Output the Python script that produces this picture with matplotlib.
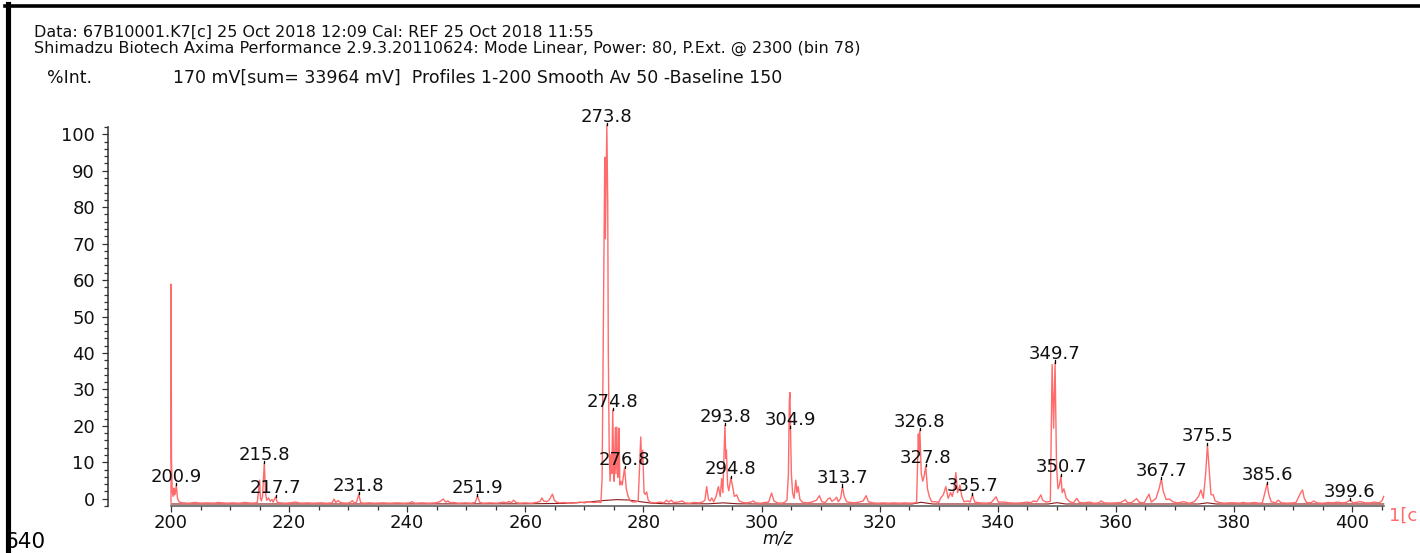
import numpy as np
import matplotlib
matplotlib.use("Agg")
import matplotlib.pyplot as plt
from matplotlib.lines import Line2D
from matplotlib.ticker import MultipleLocator

plt.rcParams['font.family'] = ['DejaVu Sans']

# ---- spectrum profile (m/z, %Int) ----
mz = [200.0, 200.02, 200.08, 200.2, 200.35, 200.5, 200.6, 200.75, 200.9, 201.1, 201.4, 202.0,
      203.0, 204.0, 205.2, 206.0, 207.3, 208.0, 209.5, 210.4, 211.6, 212.5, 213.6, 214.4,
      214.6, 214.8, 215.0, 215.15, 215.3, 215.5, 215.8, 216.0, 216.2, 216.5, 216.8, 217.1,
      217.3, 217.7, 218.0, 218.5, 219.3, 220.2, 221.0, 222.0, 223.2, 224.0, 225.3, 226.4,
      227.3, 227.6, 227.9, 228.3, 228.6, 229.0, 229.8, 230.4, 230.7, 231.0, 231.4, 231.8,
      232.1, 232.6, 233.5, 234.6, 235.8, 237.0, 238.3, 239.5, 240.4, 240.8, 241.3, 242.5,
      243.7, 244.8, 245.5, 246.1, 246.5, 246.9, 247.3, 247.8, 248.7, 249.8, 250.8, 251.5,
      251.9, 252.3, 252.9, 254.0, 255.2, 256.3, 256.8, 257.2, 257.6, 258.0, 258.4, 259.0,
      260.0, 261.0, 261.9, 262.5, 262.8, 263.1, 263.6, 264.0, 264.6, 264.9, 265.3, 265.8,
      266.6, 267.5, 268.4, 269.3, 270.0, 270.8, 271.6, 272.3, 272.8, 273.0, 273.45, 273.55,
      273.8, 273.95, 274.05, 274.2, 274.35, 274.5, 274.65, 274.8, 274.95, 275.05, 275.25, 275.35,
      275.5, 275.65, 275.75, 275.87, 276.0, 276.2, 276.4, 276.8, 277.1, 277.4, 277.8, 278.3,
      278.8, 279.1, 279.3, 279.54, 279.7, 279.88, 280.1, 280.3, 280.55, 280.8, 281.2, 282.0,
      282.8, 283.5, 283.9, 284.3, 284.7, 285.1, 285.8, 286.6, 287.0, 287.8, 288.6, 289.4,
      290.0, 290.4, 290.71, 291.0, 291.3, 291.56, 291.9, 292.3, 292.69, 293.0, 293.25, 293.45,
      293.8, 293.95, 294.05, 294.25, 294.45, 294.8, 295.1, 295.4, 295.8, 296.2, 296.8, 297.5,
      298.2, 298.6, 299.0, 299.8, 300.5, 301.2, 301.7, 302.1, 302.7, 303.3, 303.9, 304.3,
      304.55, 304.7, 304.8, 304.9, 305.05, 305.25, 305.5, 305.8, 306.0, 306.2, 306.5, 307.0,
      307.8, 308.5, 309.3, 309.8, 310.2, 310.8, 311.3, 311.6, 311.9, 312.4, 312.7, 313.0,
      313.4, 313.7, 314.0, 314.4, 315.0, 315.8, 316.5, 317.2, 317.7, 318.1, 318.8, 319.7,
      320.6, 321.5, 322.4, 323.3, 324.2, 325.2, 326.0, 326.25, 326.55, 326.65, 326.8, 327.05,
      327.3, 327.55, 327.8, 328.1, 328.4, 328.8, 329.5, 330.0, 330.3, 330.8, 331.2, 331.6,
      332.0, 332.3, 332.6, 332.9, 333.2, 333.6, 333.9, 334.3, 335.0, 335.3, 335.7, 336.1,
      337.0, 338.0, 338.9, 339.7, 340.1, 341.0, 342.0, 343.0, 344.0, 345.0, 345.6, 346.0,
      346.6, 347.3, 347.6, 348.2, 348.9, 349.2, 349.45, 349.7, 349.95, 350.2, 350.45, 350.7,
      350.9, 351.2, 351.6, 352.2, 352.8, 353.4, 353.8, 354.6, 355.5, 356.3, 357.1, 357.5,
      358.0, 359.0, 360.0, 360.8, 361.6, 362.0, 362.7, 363.5, 364.0, 364.8, 365.6, 366.0,
      366.8, 367.3, 367.7, 368.0, 368.5, 369.1, 369.6, 370.5, 371.5, 372.4, 373.3, 374.0,
      374.4, 374.8, 375.2, 375.5, 375.8, 376.1, 376.5, 376.8, 377.5, 378.3, 379.2, 380.0,
      381.0, 381.5, 382.3, 383.0, 383.5, 384.2, 384.8, 385.3, 385.6, 385.9, 386.3, 387.0,
      387.5, 388.0, 389.0, 390.0, 390.5, 391.3, 391.6, 391.9, 392.3, 393.0, 393.5, 394.0,
      395.0, 396.0, 396.7, 397.5, 398.3, 399.0, 399.6, 400.2, 400.9, 401.5, 402.2, 403.0,
      403.8, 404.4, 404.8, 405.1, 405.35]
intensity = [0.5, 58.0, 12.0, 3.5, 2.0, 4.2, 2.4, 3.0, 5.0, 1.5, 0.5, 0.3,
             0.2, 0.4, 0.2, 0.3, 0.2, 0.4, 0.2, 0.3, 0.2, 0.4, 0.2, 0.3,
             0.4, 3.0, 6.3, 1.5, 0.8, 2.0, 10.8, 3.0, 1.0, 1.6, 0.7, 1.2,
             0.5, 1.9, 0.4, 0.3, 0.2, 0.3, 0.5, 0.2, 0.3, 0.2, 0.3, 0.2,
             0.3, 1.3, 0.4, 0.9, 0.5, 0.3, 0.2, 0.4, 0.9, 0.3, 0.4, 2.6,
             0.4, 0.2, 0.3, 0.2, 0.3, 0.2, 0.3, 0.2, 0.3, 0.6, 0.2, 0.3,
             0.2, 0.3, 0.6, 1.3, 0.5, 0.8, 0.3, 0.4, 0.2, 0.3, 0.2, 0.4,
             2.1, 0.4, 0.2, 0.3, 0.2, 0.5, 0.3, 0.7, 0.3, 1.0, 0.4, 0.2,
             0.3, 0.2, 0.4, 0.7, 1.6, 0.8, 0.6, 1.0, 2.6, 1.0, 0.5, 0.3,
             0.4, 0.2, 0.3, 0.5, 0.3, 0.6, 0.4, 0.5, 0.4, 7.0, 91.5, 70.0,
             100.0, 80.0, 40.0, 15.0, 6.0, 13.0, 8.0, 24.8, 10.0, 6.0, 20.2, 8.0,
             20.3, 7.0, 10.0, 20.0, 5.0, 6.0, 5.0, 9.5, 4.0, 2.0, 0.8, 0.5,
             0.6, 0.8, 8.0, 17.7, 11.0, 14.2, 3.0, 2.5, 3.2, 1.0, 0.4, 0.3,
             0.5, 0.3, 1.0, 0.5, 1.0, 0.4, 0.5, 0.8, 0.3, 0.2, 0.4, 0.3,
             0.5, 1.0, 4.6, 1.2, 0.8, 1.6, 0.6, 2.0, 4.6, 2.0, 6.7, 3.0,
             20.8, 12.0, 14.2, 5.0, 3.5, 6.9, 4.6, 2.0, 2.4, 0.8, 0.4, 0.3,
             0.5, 0.8, 0.3, 0.2, 0.4, 0.5, 2.9, 0.8, 0.3, 0.2, 0.4, 1.0,
             8.0, 27.0, 29.4, 20.0, 8.0, 3.0, 1.5, 6.3, 3.0, 4.6, 1.2, 0.4,
             0.3, 0.5, 1.0, 2.2, 0.6, 0.4, 1.4, 1.6, 0.7, 1.2, 1.8, 0.6,
             1.5, 4.6, 2.0, 0.6, 0.4, 0.3, 0.5, 0.8, 2.2, 0.6, 0.3, 0.2,
             0.3, 0.2, 0.3, 0.2, 0.3, 0.2, 0.3, 0.5, 18.5, 14.0, 19.5, 8.0,
             6.0, 7.5, 10.0, 4.0, 2.0, 0.6, 0.6, 0.4, 1.5, 2.5, 4.6, 1.5,
             3.0, 2.0, 4.0, 8.3, 3.0, 5.0, 2.0, 0.6, 0.8, 0.5, 2.4, 0.5,
             0.3, 0.2, 0.4, 1.9, 0.5, 0.5, 0.3, 0.2, 0.3, 0.5, 0.3, 0.8,
             0.6, 2.4, 1.0, 0.5, 0.7, 36.8, 20.0, 37.3, 10.0, 4.0, 5.0, 7.4,
             3.0, 4.0, 1.5, 0.6, 0.3, 1.5, 0.4, 0.3, 0.5, 0.2, 0.3, 0.8,
             0.3, 0.2, 0.3, 0.4, 1.1, 0.3, 0.4, 1.4, 0.4, 0.3, 2.6, 0.5,
             1.5, 4.0, 6.6, 3.5, 1.2, 1.3, 0.6, 0.3, 0.6, 0.2, 0.6, 2.0,
             3.7, 1.5, 8.0, 15.6, 9.0, 2.5, 2.4, 0.8, 0.4, 0.2, 0.3, 0.3,
             0.2, 0.4, 0.2, 0.3, 0.4, 0.2, 0.3, 3.5, 5.3, 2.5, 0.6, 0.3,
             1.0, 0.3, 0.2, 0.3, 0.4, 3.0, 3.7, 1.5, 0.4, 0.3, 0.8, 0.3,
             0.2, 0.4, 0.3, 0.5, 0.3, 0.4, 1.0, 0.3, 0.5, 0.6, 0.3, 0.3,
             0.5, 0.3, 0.5, 1.0, 2.0]

# ---- fitted baseline curve ----
base_mz = [200.0, 230.0, 260.0, 266.0, 269.0, 271.5, 273.5, 275.5, 277.5, 279.5, 281.5, 284.0,
           291.0, 293.5, 296.0, 300.0, 325.5, 327.0, 329.0, 348.5, 350.0, 351.5, 374.0, 375.5,
           377.0, 405.35]
base_int = [0.0, 0.0, 0.05, 0.15, 0.35, 0.65, 0.95, 1.15, 1.05, 0.6, 0.2, 0.05,
            0.05, 0.3, 0.05, 0.0, 0.0, 0.45, 0.0, 0.0, 0.35, 0.0, 0.0, 0.3,
            0.0, 0.0]

# ---- annotated peaks (m/z) ----
peak_labels = [200.9, 215.8, 217.7, 231.8, 251.9, 273.8, 274.8, 276.8, 293.8, 294.8,
               304.9, 313.7, 326.8, 327.8, 335.7, 349.7, 350.7, 367.7, 375.5, 385.6, 399.6]

# ---- axis ticks ----
x_major = [200, 220, 240, 260, 280, 300, 320, 340, 360, 380, 400]
y_major = [0, 10, 20, 30, 40, 50, 60, 70, 80, 90, 100]

header_1 = "Data: 67B10001.K7[c] 25 Oct 2018 12:09 Cal: REF 25 Oct 2018 11:55"
header_2 = ("Shimadzu Biotech Axima Performance 2.9.3.20110624: Mode Linear, Power: 80, "
            "P.Ext. @ 2300 (bin 78)")
header_3a = "%Int."
header_3b = "170 mV[sum= 33964 mV]  Profiles 1-200 Smooth Av 50 -Baseline 150"
trace_tag = "1[c"

W, H = 1420, 553
fig = plt.figure(figsize=(W / 100, H / 100), dpi=100)
fig.patch.set_facecolor("white")


def px_rect(left, top, right, bottom):
    return [left / W, 1 - bottom / H, (right - left) / W, (bottom - top) / H]


def fx(x):
    return x / W


def fy(y):
    return 1 - y / H


LINE_RED = "#ff6a6a"
TXT = "#111111"

# spectrum panel
ax = fig.add_axes(px_rect(171, 125, 1384, 506))
ax.set_xlim(200, 405.4)
ax.set_ylim(-0.53, 100)
ax.patch.set_alpha(0)
for side in ("top", "right", "left"):
    ax.spines[side].set_visible(False)
ax.spines["bottom"].set_color("#555555")
ax.spines["bottom"].set_linewidth(1.1)
ax.set_yticks([])
ax.set_xticks(x_major)
ax.xaxis.set_minor_locator(MultipleLocator(5))
ax.tick_params(axis="x", which="major", direction="out", length=4.0, width=0.9,
               color="#333333", labelsize=13, pad=2.0, labelcolor=TXT)
ax.tick_params(axis="x", which="minor", direction="out", length=2.6, width=0.9,
               color="#333333")

ax.plot(base_mz, base_int, color="#8b1a1a", lw=0.8, zorder=2, clip_on=False)
ax.plot(mz, intensity, color=LINE_RED, lw=1.0, zorder=3, clip_on=False)

heights = np.interp(peak_labels, mz, intensity)
for m, h in zip(peak_labels, heights):
    ax.plot([m, m], [h, h + 0.6], color="black", lw=0.9, zorder=4, clip_on=False)
    ax.annotate(f"{m:.1f}", xy=(m, h), xytext=(0, 2.5), textcoords="offset points",
                ha="center", va="baseline", fontsize=13, color=TXT,
                annotation_clip=False)

ax.set_xlabel("m/z", fontsize=12, fontstyle="italic", labelpad=-2, color=TXT)

# intensity scale
yax = fig.add_axes(px_rect(108, 127, 109, 506))
yax.set_ylim(-2, 102)
yax.patch.set_alpha(0)
for side in ("top", "right", "bottom"):
    yax.spines[side].set_visible(False)
yax.spines["left"].set_color("#333333")
yax.spines["left"].set_linewidth(1.1)
yax.set_xticks([])
yax.set_yticks(y_major)
yax.yaxis.set_minor_locator(MultipleLocator(2))
yax.tick_params(axis="y", which="major", direction="out", length=4.3, width=0.9,
                color="#333333", labelsize=13, pad=5, labelcolor=TXT)
yax.tick_params(axis="y", which="minor", direction="out", length=2.9, width=0.9,
                color="#333333")

# header text
fig.text(fx(34), fy(37), header_1, fontsize=11.5, ha="left", va="baseline", color=TXT)
fig.text(fx(34), fy(53), header_2, fontsize=11.5, ha="left", va="baseline", color=TXT)
fig.text(fx(47), fy(83), header_3a, fontsize=12.5, ha="left", va="baseline", color=TXT)
fig.text(fx(173), fy(83), header_3b, fontsize=12.5, ha="left", va="baseline", color=TXT)

# trace identifier at the axis end
fig.text(fx(1389), fy(521), trace_tag, fontsize=13, ha="left", va="baseline", color=LINE_RED)

# frame lines
fig.add_artist(Line2D([fx(5), fx(1420)], [fy(5.5), fy(5.5)], color="black", lw=2.6))
fig.add_artist(Line2D([fx(7.5), fx(7.5)], [fy(4), fy(553)], color="black", lw=3.7))

fig.text(fx(5), fy(552.5), "640", fontsize=15.5, ha="left", va="bottom", color="black")

fig.savefig("out.png", dpi=100, facecolor="white")
